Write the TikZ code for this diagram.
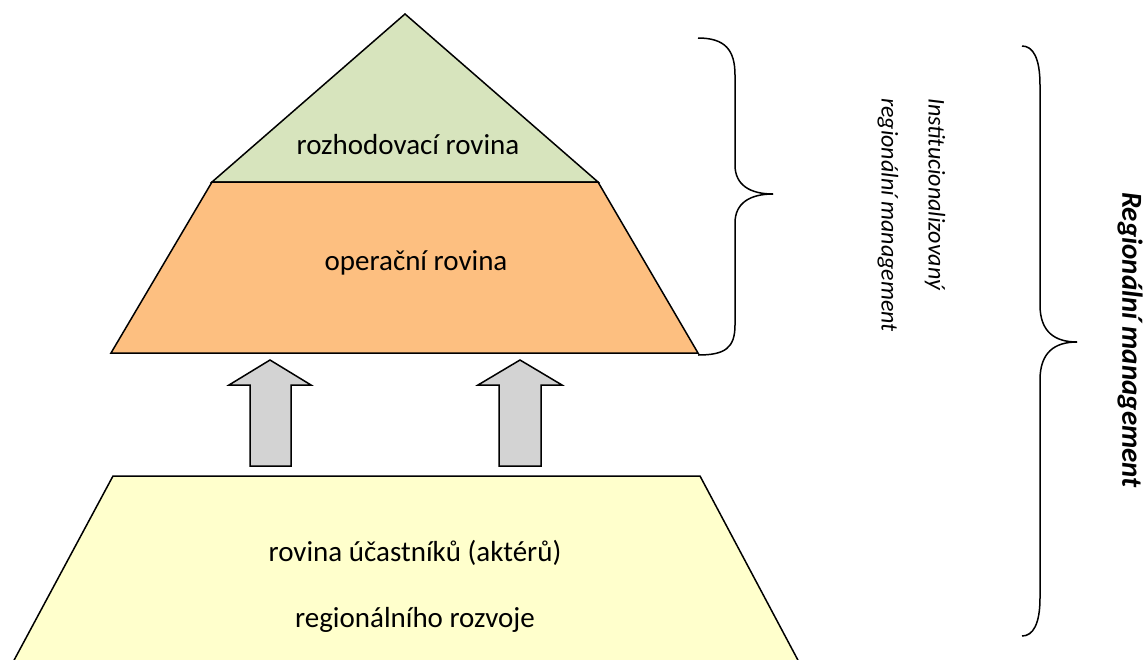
\documentclass[tikz,border=0pt]{standalone}
\usepackage{fontspec}
\setmainfont{Carlito}
\definecolor{rovgreen}{HTML}{D7E4BD}
\definecolor{rovorange}{HTML}{FDBF80}
\definecolor{rovyellow}{HTML}{FFFFCC}
\definecolor{arrgray}{HTML}{D3D3D3}
\begin{document}
\begin{tikzpicture}[x=1pt,y=-1pt,line width=1.5pt,font=\fontsize{29}{35}\selectfont]
				\useasboundingbox (0,0) rectangle (1146,659);
				
				\coordinate (v1) at (405,14);
				\coordinate (v2) at (212,182);
				\coordinate (v3) at (598,182);
				\coordinate (v4) at (111,353);
				\coordinate (v5) at (698,353);
				\coordinate (v6) at (113,476);
				\coordinate (v7) at (700,476);
				\coordinate (v8) at (12,664);
				\coordinate (v9) at (800,664);
				
				\draw [fill=rovgreen] (v1) -- (v2) -- (v3) -- cycle;
				\draw [fill=rovorange] (v2) -- (v3) -- (v5) -- (v4) -- cycle;
				\fill [rovyellow] (v8) -- (v6) -- (v7) -- (v9) -- cycle;
				\draw (v8) -- (v6) -- (v7) -- (v9);
				
				\draw [fill=arrgray] (250,466) -- (250,385) -- (229,385) -- (270,360) -- (311,385) -- (291,385) -- (291,466) -- cycle;
				\draw [fill=arrgray] (499,466) -- (499,385) -- (478,385) -- (520,360) -- (562,385) -- (541,385) -- (541,466) -- cycle;
				
				\coordinate (b1) at (698,38);
				\coordinate (b2) at (773,194);
				\coordinate (b3) at (698,355);
				\draw (b1) .. controls (725,38) and (735,50) .. (735,75) -- (735,165) .. controls (735,185) and (750,194) .. (b2);
				\draw (b2) .. controls (750,194) and (735,203) .. (735,223) -- (735,325) .. controls (735,348) and (725,355) .. (b3);
				
				\coordinate (b4) at (1022,46);
				\coordinate (b5) at (1077,342);
				\coordinate (b6) at (1022,636);
				\draw (b4) .. controls (1033,46) and (1040,58) .. (1040,85) -- (1040,305) .. controls (1040,332) and (1055,342) .. (b5);
				\draw (b5) .. controls (1055,342) and (1040,352) .. (1040,380) -- (1040,598) .. controls (1040,624) and (1033,636) .. (b6);
				
				\node (t1) at (408,145) {rozhodovací rovina};
				\node (t2) at (416,263) {operační rovina};
				\node (t3) at (415,553) {rovina účastníků (aktérů)};
				\node (t4) at (415,620) {regionálního rozvoje};
				\node [rotate=-90,font=\fontsize{24}{29}\selectfont\itshape] (t5) at (935,194) {Institucionalizovaný};
				\node [rotate=-90,font=\fontsize{24}{29}\selectfont\itshape] (t6) at (888,215) {regionální management};
				\node [rotate=-90,font=\fontsize{29}{35}\selectfont\bfseries\itshape] (t7) at (1130,340) {Regionální management};
\end{tikzpicture}
\end{document}
